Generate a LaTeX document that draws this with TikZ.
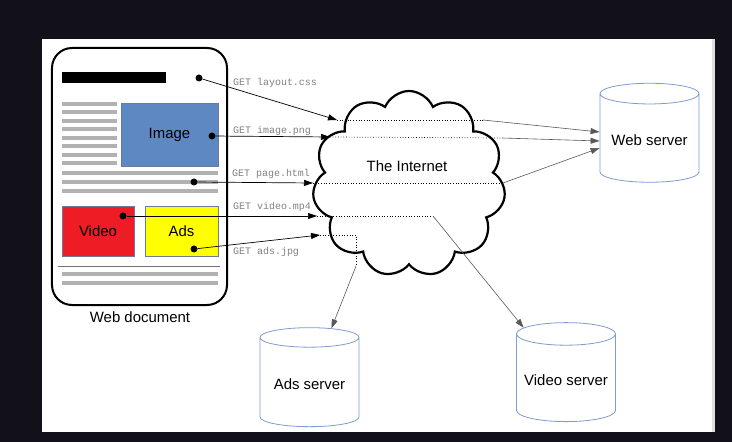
\documentclass[tikz,border=0pt]{standalone}
\usepackage{fontspec}
\setmainfont{Liberation Sans}
\setmonofont{Liberation Mono}
\usetikzlibrary{shapes.symbols,shapes.geometric,arrows.meta}
\definecolor{bgdark}{HTML}{12111A}
\definecolor{imgblue}{HTML}{5D88C2}
\definecolor{vidred}{HTML}{EE1C25}
\definecolor{adyellow}{HTML}{FFFF00}
\definecolor{boxline}{HTML}{6E7A99}
\definecolor{srvblue}{HTML}{7F9CCF}
\definecolor{lineray}{HTML}{B2B2B2}
\begin{document}
\begin{tikzpicture}[x=1bp,y=-1bp,
    big/.style={font=\fontsize{15}{18}\selectfont},
    dot/.style={circle,fill=black,inner sep=0pt,minimum size=7bp},
    block/.style={draw=boxline,fill=#1,line width=0.6bp,inner sep=0pt,big},
    textline/.style={draw=lineray,line width=4bp},
    server/.style={cylinder,shape border rotate=90,aspect=0.25,draw=srvblue,
        line width=0.8bp,minimum width=99bp,minimum height=99bp,big},
    get/.style={anchor=west,inner sep=0pt,text=gray,font=\fontsize{10}{12}\ttfamily},
    req/.style={-{Triangle[length=9bp,width=6bp]},line width=0.7bp},
    via/.style={dotted,line width=0.7bp},
    resp/.style={-{Triangle[length=9bp,width=6bp]},draw=black!65,line width=0.6bp}]
    \fill[bgdark] (0,0) rectangle (732,442);
    \fill[white] (42,39) rectangle (712,432);
    \fill[black!12] (712,39) rectangle (715,432);
    % the page
    \node[draw,line width=2bp,rounded corners=20bp,minimum width=175bp,minimum height=257bp] (doc) at (139.5,176.5) {};
    \node[big] (doclabel) at (140,317) {Web document};
    \fill (62,72) rectangle (166,83);
    \foreach \i in {0,...,7}
        \draw[textline] (62,{104+8.43*\i}) -- (117,{104+8.43*\i});
    \foreach \y in {173,182,191,274,283}
        \draw[textline] (62,\y) -- (218,\y);
    \draw[black!55,line width=0.8bp] (58,266) -- (220,266);
    \node[block=imgblue,minimum width=97bp,minimum height=63bp] (image) at (169.5,134.5) {Image};
    \node[block=vidred,minimum width=72bp,minimum height=50bp] (video) at (98,231) {Video};
    \node[block=adyellow,minimum width=73bp,minimum height=50bp] (ads) at (181.5,231) {Ads};
    \node[dot] (dcss) at (199,78) {};
    \node[dot] (dpng) at (212,136) {};
    \node[dot] (dhtml) at (194,182) {};
    \node[dot] (dmp4) at (123,216) {};
    \node[dot] (djpg) at (194,249) {};
    % the net and the servers
    \node[cloud,draw,line width=2.2bp,cloud puffs=11,cloud puff arc=135,cloud ignores aspect,
        minimum width=193bp,minimum height=186bp] (net) at (409,184) {};
    \node[big] (nettext) at (407,166) {The Internet};
    \node[server] (websrv) at (649.5,140) {Web server};
    \node[server] (adsrv) at (309.5,384) {Ads server};
    \node[server] (vidsrv) at (566,380) {Video server};
    \coordinate (incss) at (337,120);
    \coordinate (outcss) at (483,120);
    \coordinate (inpng) at (330,137);
    \coordinate (outpng) at (502,138);
    \coordinate (inhtml) at (313,183);
    \coordinate (outhtml) at (503,183);
    \coordinate (inmp4) at (317,216);
    \coordinate (turnmp4) at (433,216);
    \coordinate (injpg) at (320,235);
    \coordinate (turnjpg) at (356,235);
    \coordinate (outjpg) at (356,266);
    \node[get] (lcss) at (233,83) {GET layout.css};
    \node[get] (lpng) at (233,131) {GET image.png};
    \node[get] (lhtml) at (232,174) {GET page.html};
    \node[get] (lmp4) at (233,207) {GET video.mp4};
    \node[get] (ljpg) at (233,252) {GET ads.jpg};
    % requests
    \draw[req] (dcss) -- (incss);
    \draw[via] (incss) -- (outcss);
    \draw[resp] (outcss) -- ([yshift=8bp]websrv.west);
    \draw[req] (dpng) -- (inpng);
    \draw[via] (inpng) -- (outpng);
    \draw[resp] (outpng) -- ([yshift=-1bp]websrv.west);
    \draw[req] (dhtml) -- (inhtml);
    \draw[via] (inhtml) -- (outhtml);
    \draw[resp] (outhtml) -- ([yshift=-8bp]websrv.west);
    \draw[req] (dmp4) -- (inmp4);
    \draw[via] (inmp4) -- (turnmp4);
    \draw[resp] (turnmp4) -- (vidsrv);
    \draw[req] (djpg) -- (injpg);
    \draw[via] (injpg) -- (turnjpg) -- (outjpg);
    \draw[resp] (outjpg) -- (adsrv);
\end{tikzpicture}
\end{document}
